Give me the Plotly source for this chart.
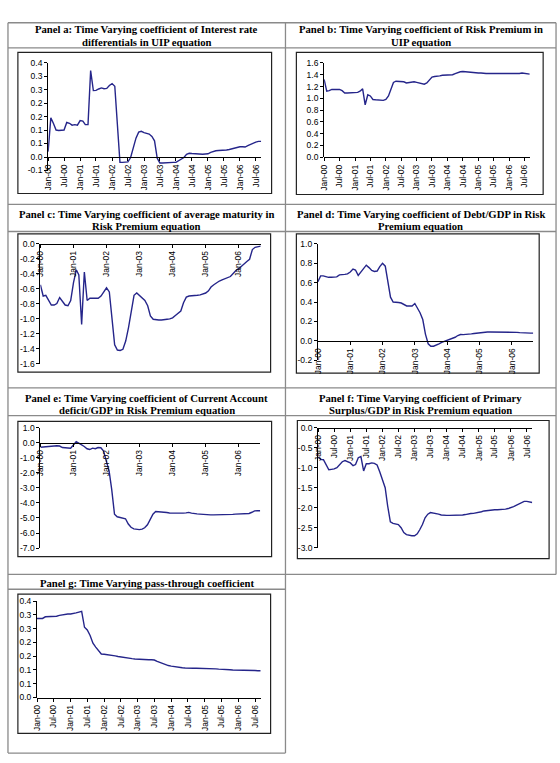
import plotly.graph_objects as go
import pandas as pd

W, H = 560, 763

# ---------------- data ----------------
dates = pd.date_range('2000-01-01', periods=81, freq='MS')

panel_a = [0.02, 0.145, 0.125, 0.10, 0.098, 0.098, 0.10, 0.128, 0.125, 0.118,
           0.12, 0.118, 0.135, 0.133, 0.12, 0.12, 0.32, 0.246, 0.247, 0.252,
           0.256, 0.253, 0.254, 0.265, 0.272, 0.262, 0.14, -0.02, -0.02, -0.018,
           -0.018, -0.002, 0.033, 0.07, 0.092, 0.095, 0.09, 0.088, 0.085, 0.076,
           0.06, -0.005, -0.022, -0.022, -0.021, -0.021, -0.021, -0.02, -0.02, -0.013,
           -0.008, -0.002, 0.01, 0.014, 0.013, 0.012, 0.011, 0.01, 0.01, 0.011,
           0.012, 0.017, 0.021, 0.023, 0.024, 0.024, 0.025, 0.026, 0.028, 0.031,
           0.034, 0.037, 0.038, 0.038, 0.037, 0.042, 0.047, 0.05, 0.055, 0.058, 0.058]

panel_b = [1.32, 1.12, 1.13, 1.15, 1.15, 1.15, 1.15, 1.13, 1.09, 1.09,
           1.09, 1.10, 1.09, 1.10, 1.12, 1.16, 0.89, 1.06, 1.04, 0.98,
           0.975, 0.975, 0.97, 0.965, 0.98, 1.04, 1.15, 1.27, 1.29, 1.29,
           1.29, 1.28, 1.26, 1.27, 1.28, 1.28, 1.27, 1.26, 1.25, 1.24,
           1.26, 1.32, 1.36, 1.37, 1.37, 1.38, 1.39, 1.39, 1.40, 1.40,
           1.40, 1.42, 1.44, 1.45, 1.455, 1.45, 1.44, 1.44, 1.43, 1.43,
           1.43, 1.43, 1.42, 1.42, 1.42, 1.42, 1.42, 1.42, 1.42, 1.42,
           1.42, 1.42, 1.42, 1.415, 1.41, 1.41, 1.42, 1.43, 1.42, 1.41, 1.41]

panel_c = [-0.55, -0.70, -0.69, -0.75, -0.82, -0.82, -0.80, -0.72, -0.77, -0.82,
           -0.83, -0.76, -0.52, -0.35, -0.42, -1.08, -0.38, -0.76, -0.73, -0.73,
           -0.73, -0.73, -0.70, -0.64, -0.59, -0.645, -0.95, -1.35, -1.42, -1.425,
           -1.41, -1.30, -1.12, -0.92, -0.69, -0.66, -0.69, -0.73, -0.76, -0.83,
           -0.965, -1.01, -1.02, -1.02, -1.02, -1.02, -1.01, -1.005, -0.99, -0.96,
           -0.93, -0.90, -0.79, -0.715, -0.70, -0.70, -0.70, -0.69, -0.685, -0.67,
           -0.66, -0.63, -0.58, -0.55, -0.52, -0.50, -0.485, -0.47, -0.465, -0.44,
           -0.40, -0.36, -0.335, -0.30, -0.265, -0.24, -0.21, -0.08, -0.05, -0.045, -0.035]

panel_d = [0.61, 0.67, 0.67, 0.66, 0.655, 0.655, 0.655, 0.66, 0.68, 0.68,
           0.685, 0.69, 0.71, 0.74, 0.73, 0.675, 0.71, 0.745, 0.78, 0.755,
           0.725, 0.715, 0.72, 0.765, 0.80, 0.77, 0.61, 0.45, 0.40, 0.40,
           0.395, 0.39, 0.37, 0.36, 0.36, 0.36, 0.385, 0.34, 0.29, 0.22,
           0.07, -0.03, -0.055, -0.055, -0.045, -0.03, -0.015, -0.005, 0.0, 0.01,
           0.02, 0.037, 0.055, 0.065, 0.064, 0.065, 0.068, 0.072, 0.076, 0.08,
           0.086, 0.088, 0.09, 0.091, 0.092, 0.092, 0.093, 0.094, 0.095, 0.095,
           0.095, 0.095, 0.094, 0.092, 0.088, 0.085, 0.082, 0.08, 0.08, 0.08, 0.08]

panel_e = [-0.30, -0.28, -0.26, -0.25, -0.20, -0.20, -0.20, -0.22, -0.32, -0.33,
           -0.35, -0.37, -0.15, 0.07, -0.02, -0.12, -0.25, -0.40, -0.45, -0.36,
           -0.40, -0.32, -0.33, -0.55, -1.20, -1.90, -3.10, -4.75, -4.92, -4.95,
           -5.0, -5.05, -5.40, -5.62, -5.72, -5.76, -5.77, -5.74, -5.65, -5.45,
           -5.05, -4.75, -4.57, -4.58, -4.61, -4.62, -4.64, -4.67, -4.68, -4.68,
           -4.68, -4.68, -4.68, -4.66, -4.63, -4.68, -4.72, -4.73, -4.74, -4.76,
           -4.78, -4.79, -4.79, -4.79, -4.79, -4.79, -4.78, -4.77, -4.79, -4.80,
           -4.76, -4.74, -4.74, -4.74, -4.74, -4.74, -4.70, -4.62, -4.53, -4.52, -4.52]

panel_f = [-0.73, -0.79, -0.80, -0.92, -1.05, -1.04, -1.03, -1.00, -0.93, -0.85,
           -0.82, -0.84, -0.88, -0.95, -0.92, -0.75, -0.72, -1.08, -0.90, -0.90,
           -0.88, -0.89, -0.93, -1.10, -1.28, -1.50, -1.95, -2.35, -2.39, -2.40,
           -2.42, -2.50, -2.62, -2.67, -2.69, -2.70, -2.70, -2.65, -2.55, -2.42,
           -2.25, -2.16, -2.12, -2.13, -2.15, -2.16, -2.18, -2.19, -2.19, -2.19,
           -2.19, -2.19, -2.19, -2.19, -2.18, -2.17, -2.15, -2.145, -2.14, -2.13,
           -2.12, -2.10, -2.08, -2.07, -2.06, -2.055, -2.05, -2.05, -2.05, -2.04,
           -2.035, -2.02, -2.00, -1.97, -1.94, -1.91, -1.87, -1.84, -1.84, -1.86, -1.87]

panel_g = [0.287, 0.287, 0.287, 0.293, 0.293, 0.295, 0.295, 0.295, 0.298, 0.30,
           0.303, 0.303, 0.303, 0.304, 0.307, 0.31, 0.313, 0.255, 0.245, 0.225,
           0.197, 0.183, 0.17, 0.158, 0.157, 0.156, 0.154, 0.153, 0.151, 0.149,
           0.147, 0.145, 0.144, 0.142, 0.141, 0.140, 0.139, 0.138, 0.137, 0.137,
           0.137, 0.137, 0.136, 0.131, 0.127, 0.122, 0.119, 0.116, 0.114, 0.112,
           0.110, 0.109, 0.108, 0.107, 0.106, 0.106, 0.106, 0.106, 0.106, 0.106,
           0.105, 0.105, 0.105, 0.104, 0.104, 0.103, 0.103, 0.102, 0.102, 0.101,
           0.100, 0.100, 0.099, 0.099, 0.099, 0.098, 0.098, 0.098, 0.098, 0.097, 0.097]

# x tick positions / labels
half_year_ticks = ['2000-01-01', '2000-07-01', '2001-01-01', '2001-07-01', '2002-01-01',
                   '2002-07-01', '2003-01-01', '2003-07-01', '2004-01-01', '2004-07-01',
                   '2005-01-01', '2005-07-01', '2006-01-01', '2006-07-01']
half_year_labels = ['Jan-00', 'Jul-00', 'Jan-01', 'Jul-01', 'Jan-02', 'Jul-02', 'Jan-03',
                    'Jul-03', 'Jan-04', 'Jul-04', 'Jan-05', 'Jul-05', 'Jan-06', 'Jul-06']
year_ticks = ['2000-01-01', '2001-01-01', '2002-01-01', '2003-01-01',
              '2004-01-01', '2005-01-01', '2006-01-01']
year_labels = ['Jan-00', 'Jan-01', 'Jan-02', 'Jan-03', 'Jan-04', 'Jan-05', 'Jan-06']

# y tick positions / labels
ya_vals = [0.35, 0.30, 0.25, 0.20, 0.15, 0.10, 0.05, 0.0, -0.05]
ya_text = ['0.4', '0.3', '0.3', '0.2', '0.2', '0.1', '0.1', '0.0', '-0.1']
yb_vals = [1.6, 1.4, 1.2, 1.0, 0.8, 0.6, 0.4, 0.2, 0.0]
yb_text = ['1.6', '1.4', '1.2', '1.0', '0.8', '0.6', '0.4', '0.2', '0.0']
yc_vals = [0.0, -0.2, -0.4, -0.6, -0.8, -1.0, -1.2, -1.4, -1.6]
yc_text = ['0.0', '-0.2', '-0.4', '-0.6', '-0.8', '-1.0', '-1.2', '-1.4', '-1.6']
yd_vals = [1.0, 0.8, 0.6, 0.4, 0.2, 0.0, -0.2]
yd_text = ['1.0', '0.8', '0.6', '0.4', '0.2', '0.0', '-0.2']
ye_vals = [1, 0, -1, -2, -3, -4, -5, -6, -7]
ye_text = ['1.0', '0.0', '-1.0', '-2.0', '-3.0', '-4.0', '-5.0', '-6.0', '-7.0']
yf_vals = [0.0, -0.5, -1.0, -1.5, -2.0, -2.5, -3.0]
yf_text = ['0.0', '-0.5', '-1.0', '-1.5', '-2.0', '-2.5', '-3.0']
yg_vals = [0.35, 0.30, 0.25, 0.20, 0.15, 0.10, 0.05, 0.0]
yg_text = ['0.4', '0.3', '0.3', '0.2', '0.2', '0.1', '0.1', '0.0']

titles = {
    'a': ['Panel a: Time Varying coefficient of Interest rate', 'differentials in UIP equation'],
    'b': ['Panel b: Time Varying coefficient of Risk Premium in', 'UIP equation'],
    'c': ['Panel c: Time Varying coefficient of average maturity in', 'Risk Premium equation'],
    'd': ['Panel d: Time Varying coefficient of Debt/GDP in Risk', 'Premium equation'],
    'e': ['Panel e: Time Varying coefficient of Current Account', 'deficit/GDP in Risk Premium equation'],
    'f': ['Panel f: Time Varying coefficient of Primary', 'Surplus/GDP in Risk Premium equation'],
    'g': ['Panel g: Time Varying pass-through coefficient'],
}

# ---------------- layout geometry (pixels) ----------------
def fx(px):
    return px / W

def fy(py):
    return 1 - py / H

# plot area: left, right, top(px of ymax), bottom(px of ymin), ymin, ymax
panels = [
    dict(key='a', y=panel_a, l=43.5, r=258.5, t=58.3, b=167.7, ymin=-0.05, ymax=0.35,
         yv=ya_vals, yt=ya_text, xv=half_year_ticks, xt=half_year_labels,
         frame=(13, 48, 269, 191), tx=143, ty=[24.7, 37.7]),
    dict(key='b', y=panel_b, l=322, r=529.5, t=58.7, b=154.3, ymin=0.0, ymax=1.6,
         yv=yb_vals, yt=yb_text, xv=half_year_ticks, xt=half_year_labels,
         frame=(294, 48, 543, 192), tx=419.5, ty=[24.7, 37.7]),
    dict(key='c', y=panel_c, l=35.7, r=258, t=241.7, b=363.3, ymin=-1.6, ymax=0.0,
         yv=yc_vals, yt=yc_text, xv=year_ticks, xt=year_labels,
         frame=(13, 232, 268, 372), tx=143, ty=[211.7, 223.5]),
    dict(key='d', y=panel_d, l=315.7, r=533, t=242, b=360, ymin=-0.2, ymax=1.0,
         yv=yd_vals, yt=yd_text, xv=year_ticks, xt=year_labels,
         frame=(294, 232, 539, 373), tx=419.5, ty=[211.7, 223.5]),
    dict(key='e', y=panel_e, l=35.7, r=257.5, t=428.3, b=550.3, ymin=-7.0, ymax=1.0,
         yv=ye_vals, yt=ye_text, xv=year_ticks, xt=year_labels,
         frame=(13, 422, 269, 559), tx=143, ty=[398.3, 410]),
    dict(key='f', y=panel_f, l=316, r=532, t=428.3, b=550, ymin=-3.0, ymax=0.0,
         yv=yf_vals, yt=yf_text, xv=half_year_ticks, xt=half_year_labels,
         frame=(295, 421, 549, 561), tx=419.5, ty=[398.3, 410]),
    dict(key='g', y=panel_g, l=32.3, r=258, t=604, b=701.7, ymin=0.0, ymax=0.35,
         yv=yg_vals, yt=yg_text, xv=half_year_ticks, xt=half_year_labels,
         frame=(13, 597, 268, 738), tx=143, ty=[586]),
]

LINE_COLOR = '#25258a'
TICK_FONT = dict(family='Liberation Sans, Arial, sans-serif', size=8.5, color='black')
TITLE_FONT = dict(family='Liberation Serif, Times New Roman, serif', size=10.7, color='black')

fig = go.Figure()
layout = dict(width=W, height=H, autosize=False,
              margin=dict(l=0, r=0, t=0, b=0),
              paper_bgcolor='white', plot_bgcolor='rgba(0,0,0,0)',
              showlegend=False)
shapes = []
annotations = []

for i, p in enumerate(panels, start=1):
    xa = 'x' if i == 1 else f'x{i}'
    ya = 'y' if i == 1 else f'y{i}'
    fig.add_trace(go.Scatter(x=dates, y=p['y'], mode='lines',
                             line=dict(color=LINE_COLOR, width=1.4),
                             xaxis=xa, yaxis=ya, hoverinfo='skip'))
    # position of the y=0 crossing for the x axis
    py0 = p['t'] + (p['ymax'] - 0.0) / (p['ymax'] - p['ymin']) * (p['b'] - p['t'])
    layout['xaxis' if i == 1 else f'xaxis{i}'] = dict(
        domain=[fx(p['l']), fx(p['r'])], anchor='free', position=fy(py0),
        type='date', range=[dates[0], dates[-1]],
        tickmode='array', tickvals=p['xv'], ticktext=p['xt'], tickangle=-90,
        ticks='outside', ticklen=3, tickcolor='black', tickwidth=1,
        showline=True, linecolor='black', linewidth=1,
        showgrid=False, zeroline=False, tickfont=TICK_FONT, fixedrange=True)
    layout['yaxis' if i == 1 else f'yaxis{i}'] = dict(
        domain=[fy(p['b']), fy(p['t'])], anchor=xa,
        range=[p['ymin'], p['ymax']],
        tickmode='array', tickvals=p['yv'], ticktext=p['yt'],
        ticks='outside', ticklen=3, tickcolor='black', tickwidth=1,
        showline=True, linecolor='black', linewidth=1,
        showgrid=False, zeroline=False, tickfont=TICK_FONT, fixedrange=True)
    # chart frame
    x0, y0, x1, y1 = p['frame']
    shapes.append(dict(type='rect', xref='paper', yref='paper',
                       x0=fx(x0), x1=fx(x1), y0=fy(y1), y1=fy(y0),
                       line=dict(color='#222222', width=1.2), layer='below'))
    for line_txt, ly in zip(titles[p['key']], p['ty']):
        annotations.append(dict(text=f'<b>{line_txt}</b>', xref='paper', yref='paper',
                                x=fx(p['tx']), y=fy(ly), xanchor='center', yanchor='middle',
                                showarrow=False, font=TITLE_FONT))

# table borders
BORDER = dict(color='#8a8a8a', width=1.3)
def hline(y, x0, x1):
    shapes.append(dict(type='line', xref='paper', yref='paper',
                       x0=fx(x0), x1=fx(x1), y0=fy(y), y1=fy(y), line=BORDER))
def vline(x, y0, y1):
    shapes.append(dict(type='line', xref='paper', yref='paper',
                       x0=fx(x), x1=fx(x), y0=fy(y0), y1=fy(y1), line=BORDER))

for yy in [18, 43.5, 202, 229.5, 388, 416, 577]:
    hline(yy, 3, 556)
for yy in [592, 758]:
    hline(yy, 3, 283)
vline(3, 18, 758)
vline(283, 18, 758)
vline(556, 18, 577)

layout['shapes'] = shapes
layout['annotations'] = annotations
fig.update_layout(**layout)
fig.write_html('out.html', config={'displayModeBar': False},
               post_script="document.body.style.margin='0';document.body.style.padding='0';"
                           "document.body.style.overflow='hidden';")
